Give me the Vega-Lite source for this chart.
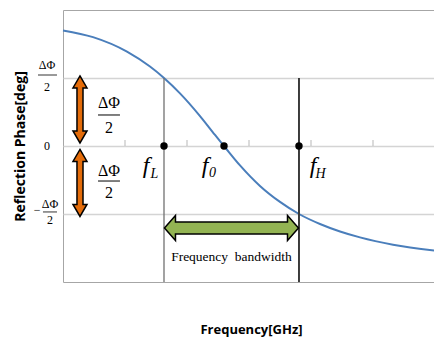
{
  "$schema": "https://vega.github.io/schema/vega-lite/v6.json",
  "width": 372,
  "height": 272,
  "autosize": "none",
  "padding": {"left": 63, "top": 10, "right": 0, "bottom": 55},
  "background": "white",
  "config": {"view": {"stroke": "#a6a6a6", "strokeWidth": 1}},
  "datasets": {
    "curve": [
      {"x": 0.0, "y": 1.7}, {"x": 0.484, "y": 1.601}, {"x": 1.032, "y": 1.388},
      {"x": 1.403, "y": 1.168}, {"x": 1.629, "y": 1.0}, {"x": 1.887, "y": 0.774},
      {"x": 2.21, "y": 0.44}, {"x": 2.452, "y": 0.162}, {"x": 2.597, "y": 0.0},
      {"x": 2.855, "y": -0.285}, {"x": 3.177, "y": -0.587}, {"x": 3.5, "y": -0.822},
      {"x": 3.806, "y": -1.0}, {"x": 4.145, "y": -1.147}, {"x": 4.468, "y": -1.257},
      {"x": 4.79, "y": -1.344}, {"x": 5.323, "y": -1.451}, {"x": 6.0, "y": -1.537}
    ],
    "ticks": [{"x": 1, "y": 0}, {"x": 2, "y": 0}, {"x": 3, "y": 0}, {"x": 4, "y": 0}, {"x": 5, "y": 0}],
    "vlines": [
      {"name": "fL", "x": 1.629, "y": 1, "y2": -2},
      {"name": "fH", "x": 3.806, "y": 1, "y2": -2}
    ],
    "freqPoints": [{"x": 1.629, "y": 0}, {"x": 2.597, "y": 0}, {"x": 3.806, "y": 0}],
    "bandArrow": [{"x": 2.7175, "y": -1.206}],
    "phaseArrows": [{"x": 0.274, "y": 0.537}, {"x": 0.274, "y": -0.544}],
    "smallBars": [
      {"x": -0.403, "x2": -0.097, "y": 1.044},
      {"x": -0.323, "x2": -0.097, "y": -0.97}
    ],
    "bigBars": [
      {"x": 0.565, "x2": 0.919, "y": 0.456},
      {"x": 0.565, "x2": 0.919, "y": -0.515}
    ],
    "smallText": [
      {"text": "ΔΦ", "x": -0.258, "y": 1.19},
      {"text": "2", "x": -0.258, "y": 0.868},
      {"text": "0", "x": -0.258, "y": 0},
      {"text": "−", "x": -0.419, "y": -0.94},
      {"text": "ΔΦ", "x": -0.21, "y": -0.853},
      {"text": "2", "x": -0.21, "y": -1.088}
    ],
    "bigText": [
      {"text": "ΔΦ", "x": 0.74, "y": 0.632},
      {"text": "2", "x": 0.74, "y": 0.265},
      {"text": "ΔΦ", "x": 0.74, "y": -0.368},
      {"text": "2", "x": 0.74, "y": -0.691}
    ],
    "fLetters": [
      {"text": "f", "x": 1.339, "y": -0.397},
      {"text": "f", "x": 2.29, "y": -0.397},
      {"text": "f", "x": 4.032, "y": -0.397}
    ],
    "subs": [
      {"text": "L", "x": 1.476, "y": -0.47},
      {"text": "0", "x": 2.41, "y": -0.46},
      {"text": "H", "x": 4.155, "y": -0.47}
    ],
    "bandText": [{"text": "Frequency\u00a0 bandwidth", "x": 2.7175, "y": -1.632}]
  },
  "layer": [
    {
      "data": {"name": "curve"},
      "mark": {"type": "line", "color": "#4a7ebb", "strokeWidth": 2, "interpolate": "monotone"},
      "encoding": {
        "x": {
          "field": "x", "type": "quantitative",
          "scale": {"domain": [0, 6], "nice": false, "zero": false},
          "axis": {
            "title": "Frequency[GHz]", "labels": false, "ticks": false, "domain": false, "grid": false,
            "titleFont": "Open Sans", "titleFontSize": 13, "titleFontWeight": "bold", "titleColor": "#000000",
            "titleX": 188, "titleY": 47, "titleBaseline": "middle", "titleAlign": "center"
          }
        },
        "y": {
          "field": "y", "type": "quantitative",
          "scale": {"domain": [-2, 2], "nice": false, "zero": false},
          "axis": {
            "title": "Reflection Phase[deg]", "labels": false, "ticks": false, "domain": false,
            "grid": true, "values": [-1, 0, 1], "gridColor": "#d4d4d4", "gridWidth": 1.5,
            "titleFont": "Open Sans", "titleFontSize": 14, "titleFontWeight": "bold", "titleColor": "#000000",
            "titleX": -43, "titleY": 136, "titleBaseline": "middle", "titleAlign": "center", "titleAngle": -90
          }
        }
      }
    },
    {
      "data": {"name": "ticks"},
      "mark": {"type": "tick", "orient": "vertical", "size": 6, "thickness": 1, "yOffset": -3, "color": "#b8b8b8", "opacity": 1},
      "encoding": {
        "x": {"field": "x", "type": "quantitative"},
        "y": {"field": "y", "type": "quantitative"}
      }
    },
    {
      "data": {"name": "vlines"},
      "transform": [{"filter": "datum.name === 'fL'"}],
      "mark": {"type": "rule", "color": "#707070", "strokeWidth": 1.3},
      "encoding": {
        "x": {"field": "x", "type": "quantitative"},
        "y": {"field": "y", "type": "quantitative"},
        "y2": {"field": "y2"}
      }
    },
    {
      "data": {"name": "vlines"},
      "transform": [{"filter": "datum.name === 'fH'"}],
      "mark": {"type": "rule", "color": "#3a3a3a", "strokeWidth": 2},
      "encoding": {
        "x": {"field": "x", "type": "quantitative"},
        "y": {"field": "y", "type": "quantitative"},
        "y2": {"field": "y2"}
      }
    },
    {
      "data": {"name": "bandArrow"},
      "mark": {
        "type": "point", "filled": true, "opacity": 1, "fill": "#93b453", "stroke": "#000000", "strokeWidth": 1.5,
        "size": 17956,
        "shape": "M-1,0 L-0.836,-0.187 L-0.836,-0.09 L0.836,-0.09 L0.836,-0.187 L1,0 L0.836,0.187 L0.836,0.09 L-0.836,0.09 L-0.836,0.187 Z"
      },
      "encoding": {
        "x": {"field": "x", "type": "quantitative"},
        "y": {"field": "y", "type": "quantitative"}
      }
    },
    {
      "data": {"name": "phaseArrows"},
      "mark": {
        "type": "point", "filled": true, "opacity": 1, "fill": "#e46c0a", "stroke": "#000000", "strokeWidth": 1.5,
        "size": 4489,
        "shape": "M0,-1 L0.209,-0.642 L0.09,-0.642 L0.09,0.642 L0.209,0.642 L0,1 L-0.209,0.642 L-0.09,0.642 L-0.09,-0.642 L-0.209,-0.642 Z"
      },
      "encoding": {
        "x": {"field": "x", "type": "quantitative"},
        "y": {"field": "y", "type": "quantitative"}
      }
    },
    {
      "data": {"name": "smallBars"},
      "mark": {"type": "rule", "color": "#000000", "strokeWidth": 0.8},
      "encoding": {
        "x": {"field": "x", "type": "quantitative"},
        "x2": {"field": "x2"},
        "y": {"field": "y", "type": "quantitative"}
      }
    },
    {
      "data": {"name": "bigBars"},
      "mark": {"type": "rule", "color": "#000000", "strokeWidth": 1},
      "encoding": {
        "x": {"field": "x", "type": "quantitative"},
        "x2": {"field": "x2"},
        "y": {"field": "y", "type": "quantitative"}
      }
    },
    {
      "data": {"name": "smallText"},
      "mark": {"type": "text", "font": "Liberation Serif", "fontSize": 12, "baseline": "middle", "align": "center", "color": "#000000"},
      "encoding": {
        "x": {"field": "x", "type": "quantitative"},
        "y": {"field": "y", "type": "quantitative"},
        "text": {"field": "text"}
      }
    },
    {
      "data": {"name": "bigText"},
      "mark": {"type": "text", "font": "Liberation Serif", "fontSize": 16, "baseline": "middle", "align": "center", "color": "#000000"},
      "encoding": {
        "x": {"field": "x", "type": "quantitative"},
        "y": {"field": "y", "type": "quantitative"},
        "text": {"field": "text"}
      }
    },
    {
      "data": {"name": "fLetters"},
      "mark": {"type": "text", "font": "Liberation Serif", "fontSize": 24, "fontStyle": "italic", "baseline": "alphabetic", "align": "center", "color": "#000000"},
      "encoding": {
        "x": {"field": "x", "type": "quantitative"},
        "y": {"field": "y", "type": "quantitative"},
        "text": {"field": "text"}
      }
    },
    {
      "data": {"name": "subs"},
      "mark": {"type": "text", "font": "Liberation Serif", "fontSize": 14, "fontStyle": "italic", "baseline": "alphabetic", "align": "center", "color": "#000000"},
      "encoding": {
        "x": {"field": "x", "type": "quantitative"},
        "y": {"field": "y", "type": "quantitative"},
        "text": {"field": "text"}
      }
    },
    {
      "data": {"name": "bandText"},
      "mark": {"type": "text", "font": "Liberation Serif", "fontSize": 13.5, "baseline": "middle", "align": "center", "color": "#000000"},
      "encoding": {
        "x": {"field": "x", "type": "quantitative"},
        "y": {"field": "y", "type": "quantitative"},
        "text": {"field": "text"}
      }
    },
    {
      "data": {"name": "freqPoints"},
      "mark": {"type": "point", "filled": true, "opacity": 1, "color": "#000000", "size": 55},
      "encoding": {
        "x": {"field": "x", "type": "quantitative"},
        "y": {"field": "y", "type": "quantitative"}
      }
    }
  ]
}
